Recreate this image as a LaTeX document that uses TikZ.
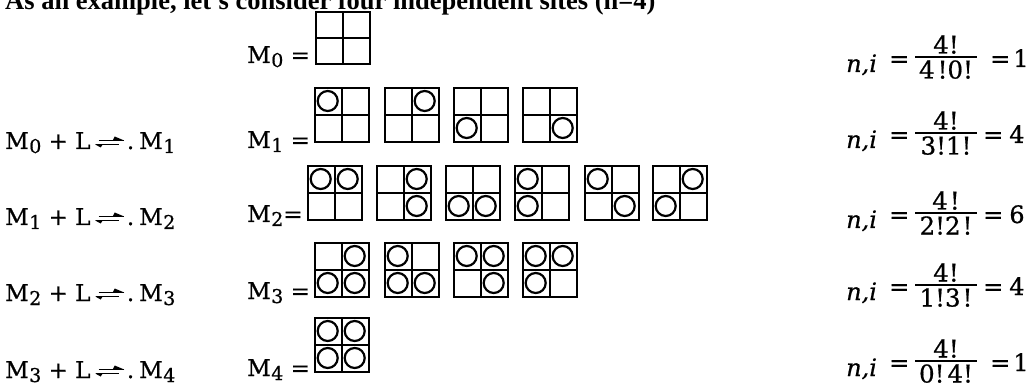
\documentclass[tikz,border=0pt]{standalone}
\usepackage{fontspec}
\setmainfont{DejaVu Serif}[FakeBold=0.7]
\newfontfamily\topfont{Liberation Serif}
\newcommand\Msub[1]{M\kern0.5pt\raisebox{-4pt}{\fontsize{19}{20}\selectfont #1}}
\newcommand\sitegrid[4]{%
  \draw[gridline] (#1,#2) rectangle (#1+54,#2+#3);
  \draw[gridline] (#1+27,#2) -- (#1+27,#2+#3);
  \draw[gridline] (#1,#2+#3/2) -- (#1+54,#2+#3/2);
  \foreach \c in {#4}{%
    \pgfmathsetmacro\cx{#1+13.5+27*mod(\c-1,2)}%
    \pgfmathsetmacro\cy{#2+#3/4+#3/2*floor((\c-1)/2)}%
    \draw[ligand] (\cx-0.8,\cy-0.5) circle[radius=10pt];
  }%
}
\newcommand\emptygrid[3]{%
  \draw[gridline] (#1,#2) rectangle (#1+54,#2+#3);
  \draw[gridline] (#1+27,#2) -- (#1+27,#2+#3);
  \draw[gridline] (#1,#2+#3/2) -- (#1+54,#2+#3/2);
}
\tikzset{
  gridline/.style={line width=2.8pt, line cap=rect},
  ligand/.style={line width=2.2pt},
  lbl/.style={inner sep=0pt, anchor=base west, font=\fontsize{23}{26}\selectfont},
  rt/.style={inner sep=0pt, font=\fontsize{24}{26}\selectfont},
  fr/.style={inner sep=0pt, font=\fontsize{24.5}{26}\selectfont},
  harp/.style={line width=1.6pt},
  fracbar/.style={line width=2.2pt},
}
\begin{document}
\begin{tikzpicture}[x=1pt,y=-1pt]
\useasboundingbox (0,0) rectangle (1032,387);
% title
\node[inner sep=0pt, anchor=base west, font=\topfont\bfseries\fontsize{26.5}{30}\selectfont] (title) at (5,10)
  {As an example, let's consider four independent sites (n=4)};
% left reaction labels
\foreach \k/\kk/\yb in {0/1/149, 1/2/225, 2/3/301, 3/4/378}{
  \node[lbl] (L\k) at (5,\yb) {\Msub{\k} + L};
  \coordinate (A\k) at ([xshift=5pt]L\k.base east);
  \draw[harp] ([xshift=3pt,yshift=8.5pt]A\k) -- ([xshift=28pt,yshift=8.5pt]A\k);
  \fill ([xshift=17pt,yshift=8.5pt]A\k) -- ([xshift=28.5pt,yshift=8.5pt]A\k) -- ([xshift=19pt,yshift=12.5pt]A\k) -- cycle;
  \draw[harp] ([xshift=0pt,yshift=4.5pt]A\k) -- ([xshift=23pt,yshift=4.5pt]A\k);
  \fill ([xshift=-0.5pt,yshift=4.5pt]A\k) -- ([xshift=7pt,yshift=4.5pt]A\k) -- ([xshift=5pt,yshift=1.5pt]A\k) -- cycle;
  \node[lbl] (R\k) at ([xshift=31pt]A\k) {.\kern5pt\Msub{\kk}};
}
% M_k = labels
\node[lbl] (E0) at (247,63) {\Msub{0} =};
\node[lbl] (E1) at (247,148) {\Msub{1} =};
\node[lbl] (E2) at (247,222) {\Msub{2}=};
\node[lbl] (E3) at (247,299) {\Msub{3} =};
\node[lbl] (E4) at (247,376) {\Msub{4} =};
% grids
\emptygrid{316}{12}{52}
\sitegrid{315}{88}{54}{1}
\sitegrid{385}{88}{54}{2}
\sitegrid{454}{88}{54}{3}
\sitegrid{523}{88}{54}{4}
\sitegrid{308}{166}{54}{1,2}
\sitegrid{377}{166}{54}{2,4}
\sitegrid{446}{166}{54}{3,4}
\sitegrid{515}{166}{54}{1,3}
\sitegrid{585}{166}{54}{1,4}
\sitegrid{653}{166}{54}{2,3}
\sitegrid{315}{243}{54}{2,3,4}
\sitegrid{385}{243}{54}{1,3,4}
\sitegrid{454}{243}{54}{1,2,4}
\sitegrid{523}{243}{54}{1,2,3}
\sitegrid{315}{318}{54}{1,2,3,4}
% right column
\foreach \r/\b/\den/\num/\rx/\res in {1/57/{4\kern3pt!0!}/{4!}/990/{=\kern3pt 1}, 2/133/{3!1!}/{4!}/983/{=\kern6pt 4}, 3/213/{2!2\kern2pt!}/{4\kern2pt!}/983/{=\kern6pt 6}, 4/285/{1!3\kern2pt!}/{4!}/983/{=\kern6pt 4}, 5/361/{0!\kern3pt4!}/{4!}/990/{=\kern3pt 1}}{
  \node[rt, anchor=base west] (ni\r) at (846,\b+15) {\itshape n,i};
  \node[rt, anchor=base west] (eq\r) at (889,\b+10) {=};
  \coordinate (bl\r) at (915,\b);
  \coordinate (br\r) at (977,\b);
  \draw[fracbar] (bl\r) -- (br\r);
  \node[fr, anchor=base] (num\r) at (946,\b-3.5) {\num};
  \node[fr, anchor=base] (den\r) at (946,\b+21.5) {\den};
  \node[rt, anchor=base west] (res\r) at (\rx,\b+10) {\res};
}
\end{tikzpicture}
\end{document}
